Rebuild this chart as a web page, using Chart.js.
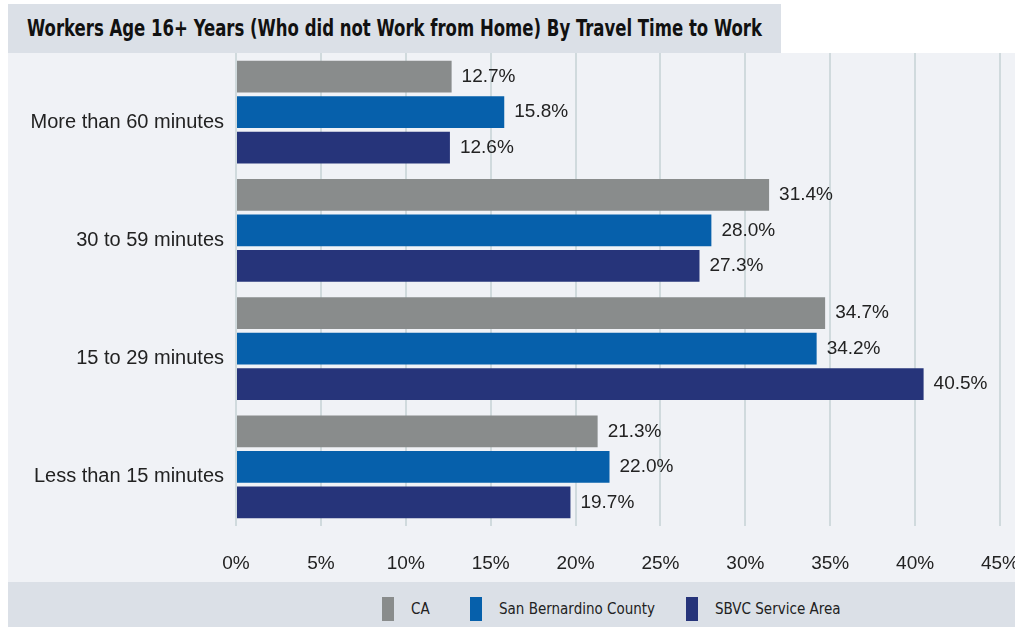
<!DOCTYPE html>
<html>
<head>
<meta charset="utf-8">
<script src="https://cdn.jsdelivr.net/npm/chart.js@4.4.1/dist/chart.umd.min.js"></script>
<style>
  body { margin: 0; background: #ffffff; width: 1015px; height: 627px; overflow: hidden; position: relative; }
  #title {
    position: absolute; left: 8px; top: 4px; width: 773px; height: 49px;
    background: #dbe0e7; overflow: hidden;
  }
  #titleText {
    position: absolute; left: 19px; top: 0; line-height: 49px; white-space: nowrap;
    font-family: "DejaVu Sans Condensed", "Liberation Sans", sans-serif;
    font-weight: bold; font-size: 23px; color: #111; transform-origin: 0 50%;
  }
  #panel {
    position: absolute; left: 8px; top: 53px; width: 1007px; height: 529px;
    background: #f0f2f6; overflow: hidden;
  }
  #wrap { position: absolute; left: 0; top: 0; width: 1040px; height: 529px; }
  #legend {
    position: absolute; left: 8px; top: 582px; width: 1007px; height: 45px;
    background: #dbe0e7;
    font-family: "DejaVu Sans Condensed", "Liberation Sans", sans-serif;
    font-size: 15px; color: #222;
  }
  .item { position: absolute; top: 15px; height: 24px; line-height: 24px; }
  .sw { position: absolute; left: 0; top: 0; width: 12px; height: 24px; }
  .item span { position: absolute; left: 29px; white-space: nowrap; }
</style>
</head>
<body>
<div id="title"><span id="titleText">Workers Age 16+ Years (Who did not Work from Home) By Travel Time to Work</span></div>
<div id="panel"><div id="wrap"><canvas id="chart"></canvas></div></div>
<div id="legend"></div>

<script>
// Data
const categories = ['More than 60 minutes', '30 to 59 minutes', '15 to 29 minutes', 'Less than 15 minutes'];
const seriesNames = ['CA', 'San Bernardino County', 'SBVC Service Area'];
const caValues = [12.7, 31.4, 34.7, 21.3];
const sbCountyValues = [15.8, 28.0, 34.2, 22.0];
const sbvcValues = [12.6, 27.3, 40.5, 19.7];
const seriesColors = ['#898c8c', '#0660ab', '#26347a'];
const xTicks = [0, 5, 10, 15, 20, 25, 30, 35, 40, 45];

const labelFont = '"Liberation Sans", Arial, sans-serif';

// Squeeze title to the condensed width of the original
const titleText = document.getElementById('titleText');
const titleWidth = titleText.getBoundingClientRect().width;
titleText.style.transform = 'scaleX(' + (735 / titleWidth) + ')';

// Legend (HTML)
const legendEl = document.getElementById('legend');
const legendX = [382, 470, 686];
seriesNames.forEach((name, i) => {
    const item = document.createElement('div');
    item.className = 'item';
    item.style.left = (legendX[i] - 8) + 'px';
    item.innerHTML = '<div class="sw" style="background:' + seriesColors[i] + '"></div><span>' + name + '</span>';
    legendEl.appendChild(item);
});

// Value labels at bar ends
const valueLabels = {
    id: 'valueLabels',
    afterDatasetsDraw(chart) {
        const ctx = chart.ctx;
        ctx.save();
        ctx.font = '19px ' + labelFont;
        ctx.fillStyle = '#222';
        ctx.textBaseline = 'middle';
        ctx.textAlign = 'left';
        chart.data.datasets.forEach((ds, di) => {
            chart.getDatasetMeta(di).data.forEach((bar, i) => {
                ctx.fillText(ds.data[i].toFixed(1) + '%', bar.x + 10, bar.y);
            });
        });
        ctx.restore();
    }
};

const ctx = document.getElementById('chart').getContext('2d');
new Chart(ctx, {
    type: 'bar',
    data: {
        labels: categories,
        datasets: [
            { label: seriesNames[0], data: caValues, backgroundColor: seriesColors[0] },
            { label: seriesNames[1], data: sbCountyValues, backgroundColor: seriesColors[1] },
            { label: seriesNames[2], data: sbvcValues, backgroundColor: seriesColors[2] }
        ]
    },
    options: {
        indexAxis: 'y',
        responsive: true,
        maintainAspectRatio: false,
        animation: false,
        layout: { padding: { top: 0, right: 48, bottom: 0, left: 0 } },
        datasets: { bar: { categoryPercentage: 0.9, barPercentage: 0.9 } },
        plugins: { legend: { display: false }, tooltip: { enabled: false } },
        scales: {
            x: {
                min: 0,
                max: 45,
                afterBuildTicks: (scale) => { scale.ticks = xTicks.map(v => ({ value: v })); },
                afterFit: (scale) => { scale.height = 56; },
                grid: { color: '#d0dadd', lineWidth: 2, drawTicks: false },
                border: { display: false },
                ticks: {
                    padding: 26,
                    color: '#222',
                    font: { family: labelFont, size: 19 },
                    callback: (v) => v + '%'
                }
            },
            y: {
                afterFit: (scale) => {
                    scale.width = 228;
                    scale.paddingTop = 0;
                    scale.paddingBottom = 0;
                },
                grid: { display: false, drawTicks: false },
                border: { display: false },
                ticks: {
                    padding: 12,
                    labelOffset: 10,
                    color: '#222',
                    font: { family: labelFont, size: 20 }
                }
            }
        }
    },
    plugins: [valueLabels]
});
</script>
</body>
</html>
